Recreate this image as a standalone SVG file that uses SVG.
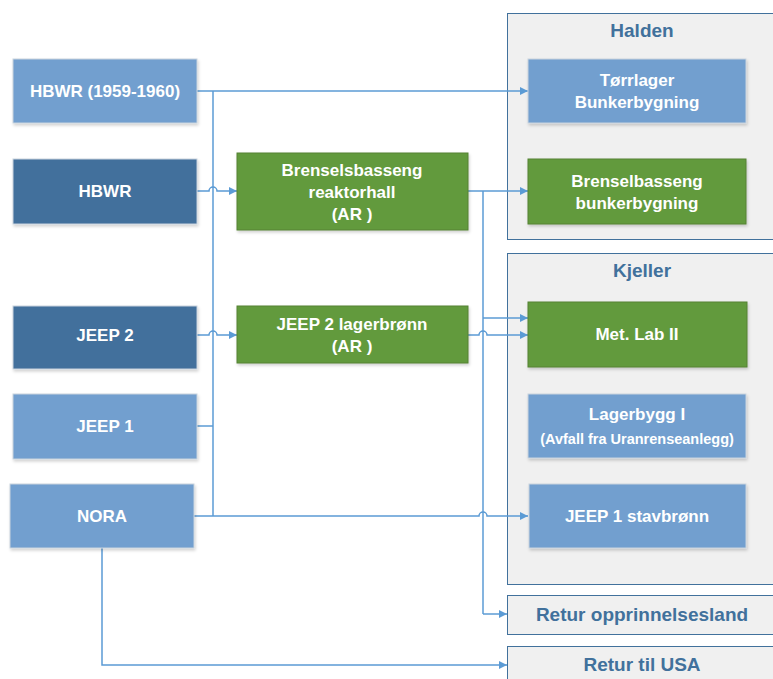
<svg xmlns="http://www.w3.org/2000/svg" width="773" height="679" viewBox="0 0 773 679">
<defs>
<marker id="arr" viewBox="0 0 10 10" refX="10" refY="5" markerWidth="8" markerHeight="8" markerUnits="userSpaceOnUse" orient="auto">
<path d="M0,0 L10,5 L0,10 Z" fill="#5B9BD5"/>
</marker>
<filter id="sh" x="-10%" y="-10%" width="120%" height="130%">
<feDropShadow dx="1" dy="2" stdDeviation="1.5" flood-color="#000" flood-opacity="0.18"/>
</filter>
<style>
.lb{fill:#729FCF;stroke:#C9D3DD;stroke-width:1;filter:url(#sh)}
.db{fill:#426F9C;stroke:#C9D3DD;stroke-width:1;filter:url(#sh)}
.gr{fill:#629A3E;stroke:#548235;stroke-width:1;filter:url(#sh)}
.ct{fill:#F0F0F0;stroke:#41719C;stroke-width:1}
.t{font-family:"Liberation Sans",Arial,sans-serif;font-weight:bold;font-size:17px;fill:#FFFFFF;text-anchor:middle}
.s{font-size:14.5px}
.h{font-family:"Liberation Sans",Arial,sans-serif;font-weight:bold;font-size:19px;fill:#41719C;text-anchor:middle}
.c{fill:none;stroke:#5B9BD5;stroke-width:1.5}
.a{marker-end:url(#arr)}
</style>
</defs>
<rect width="773" height="679" fill="#FFFFFF"/>

<g id="halden">
<rect class="ct" x="507.5" y="13.5" width="270" height="226"/>
<text class="h" x="642" y="37">Halden</text>
</g>
<g id="kjeller">
<rect class="ct" x="507.5" y="253.5" width="270" height="331"/>
<text class="h" x="642" y="277">Kjeller</text>
</g>
<g id="retur-opprinnelsesland">
<rect class="ct" x="507.5" y="595.5" width="270" height="39"/>
<text class="h" x="642" y="621">Retur opprinnelsesland</text>
</g>
<g id="retur-usa">
<rect class="ct" x="507.5" y="646.5" width="270" height="40"/>
<text class="h" x="642" y="671">Retur til USA</text>
</g>

<g id="connectors">
<path class="c" d="M213,91 V516"/>
<path class="c a" d="M197,91 H528"/>
<path class="c" d="M197,426 H213"/>
<path class="c a" d="M194,516 H479 a4,4 0 0 1 8,0 H528"/>
<path class="c a" d="M197,191 H209 a4,4 0 0 1 8,0 H237"/>
<path class="c a" d="M197,335 H209 a4,4 0 0 1 8,0 H237"/>
<path class="c a" d="M468,191 H528"/>
<path class="c" d="M483,191 V614"/>
<path class="c a" d="M483,318 H528"/>
<path class="c a" d="M468,335 H479 a4,4 0 0 1 8,0 H528"/>
<path class="c a" d="M483,614 H507"/>
<path class="c a" d="M102,548 V665 H507"/>
</g>

<g id="hbwr-1959">
<rect class="lb" x="13" y="59" width="184" height="64"/>
<text class="t" x="105" y="97">HBWR (1959-1960)</text>
</g>
<g id="hbwr">
<rect class="db" x="13" y="159" width="184" height="65"/>
<text class="t" x="105" y="197">HBWR</text>
</g>
<g id="jeep2">
<rect class="db" x="13" y="306" width="184" height="63"/>
<text class="t" x="105" y="341">JEEP 2</text>
</g>
<g id="jeep1">
<rect class="lb" x="13" y="394" width="184" height="65"/>
<text class="t" x="105" y="432">JEEP 1</text>
</g>
<g id="nora">
<rect class="lb" x="10" y="484" width="184" height="64"/>
<text class="t" x="102" y="522">NORA</text>
</g>

<g id="brenselsbasseng-reaktorhall">
<rect class="gr" x="237" y="153" width="231" height="77"/>
<text class="t" x="352" y="176">Brenselsbasseng</text>
<text class="t" x="352" y="198">reaktorhall</text>
<text class="t" x="352" y="220">(AR )</text>
</g>
<g id="jeep2-lagerbronn">
<rect class="gr" x="237" y="306" width="231" height="57"/>
<text class="t" x="352" y="330">JEEP 2 lagerbrønn</text>
<text class="t" x="352" y="352">(AR )</text>
</g>

<g id="torrlager">
<rect class="lb" x="528" y="59" width="218" height="64"/>
<text class="t" x="637" y="86">Tørrlager</text>
<text class="t" x="637" y="108">Bunkerbygning</text>
</g>
<g id="brenselbasseng-bunkerbygning">
<rect class="gr" x="528" y="159" width="218" height="65"/>
<text class="t" x="637" y="187">Brenselbasseng</text>
<text class="t" x="637" y="209">bunkerbygning</text>
</g>
<g id="metlab">
<rect class="gr" x="528" y="302" width="219" height="65"/>
<text class="t" x="637" y="340">Met. Lab II</text>
</g>
<g id="lagerbygg">
<rect class="lb" x="528" y="394" width="218" height="64"/>
<text class="t" x="637" y="420">Lagerbygg I</text>
<text class="t s" x="637" y="444">(Avfall fra Uranrenseanlegg)</text>
</g>
<g id="jeep1-stavbronn">
<rect class="lb" x="529" y="484" width="217" height="64"/>
<text class="t" x="637" y="522">JEEP 1 stavbrønn</text>
</g>
</svg>
